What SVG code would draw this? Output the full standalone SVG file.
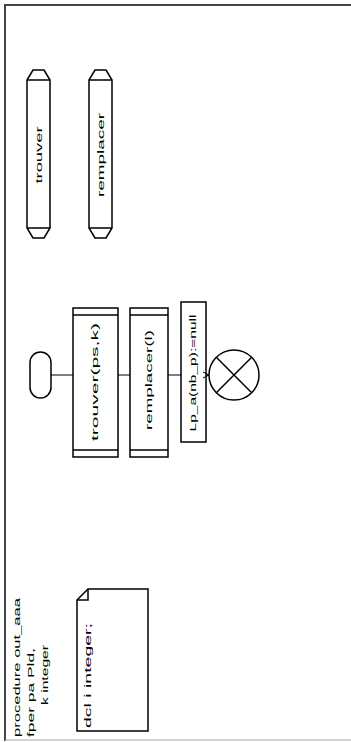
<svg xmlns="http://www.w3.org/2000/svg" width="351" height="742" viewBox="0 0 351 742">
<style>
.s{fill:none;stroke:#000;stroke-width:1.5}
.w{fill:#fff;stroke:#000;stroke-width:1.5}
.c{fill:none;stroke:#000;stroke-width:1}
.t{font-family:"Liberation Sans",Arial,sans-serif;font-size:9.5px;fill:#000}
</style>
<defs>
<marker id="arr" markerWidth="8" markerHeight="8" refX="7" refY="4" orient="auto" markerUnits="userSpaceOnUse">
<path d="M1,1 L7,4 L1,7" fill="none" stroke="#000" stroke-width="1"/>
</marker>
</defs>
<rect x="0" y="0" width="351" height="742" fill="#fff"/>
<g id="frame">
<line x1="5" y1="5" x2="351" y2="5" stroke="#444" stroke-width="2"/>
<line x1="5" y1="4" x2="5" y2="741" stroke="#444" stroke-width="2"/>
<line x1="5" y1="740" x2="351" y2="740" stroke="#aaa" stroke-width="1"/>
</g>
<g id="header">
<text class="t" transform="translate(19.5,737) rotate(-90)" textLength="139" lengthAdjust="spacingAndGlyphs">procedure out_aaa</text>
<text class="t" transform="translate(34,737) rotate(-90)" textLength="89" lengthAdjust="spacingAndGlyphs">fper pa Pld,</text>
<text class="t" transform="translate(48,705) rotate(-90)" textLength="60" lengthAdjust="spacingAndGlyphs">k integer</text>
</g>
<g id="note">
<path class="w" d="M88,589 H148 V731 H77 V600 Z"/>
<path class="s" d="M77,600 H88 V589"/>
<text class="t" transform="translate(91,728) rotate(-90)" textLength="105" lengthAdjust="spacingAndGlyphs">dcl i integer;</text>
</g>
<g id="proc-trouver">
<path class="w" d="M27,80 L33,70 H44 L50,80 V228 L44,238 H33 L27,228 Z"/>
<path class="s" d="M27,80 H50 M27,228 H50"/>
<text class="t" text-anchor="middle" transform="translate(41.5,155) rotate(-90)" textLength="57" lengthAdjust="spacingAndGlyphs">trouver</text>
</g>
<g id="proc-remplacer">
<path class="w" d="M89,80 L95,70 H106 L112,80 V228 L106,238 H95 L89,228 Z"/>
<path class="s" d="M89,80 H112 M89,228 H112"/>
<text class="t" text-anchor="middle" transform="translate(103.5,155) rotate(-90)" textLength="84" lengthAdjust="spacingAndGlyphs">remplacer</text>
</g>
<g id="start">
<rect class="w" x="30" y="352" width="21" height="46" rx="10.5" ry="10.5"/>
</g>
<g id="call-trouver">
<rect class="w" x="73" y="308" width="45" height="149"/>
<path class="s" d="M73,315 H118 M73,450 H118"/>
<text class="t" text-anchor="middle" transform="translate(98,382) rotate(-90)" textLength="118" lengthAdjust="spacingAndGlyphs">trouver(ps,k)</text>
</g>
<g id="call-remplacer">
<rect class="w" x="130" y="308" width="38" height="149"/>
<path class="s" d="M130,315 H168 M130,450 H168"/>
<text class="t" text-anchor="middle" transform="translate(152,380) rotate(-90)" textLength="100" lengthAdjust="spacingAndGlyphs">remplacer(l)</text>
</g>
<g id="assign">
<rect class="w" x="181" y="302" width="25" height="140"/>
<text class="t" text-anchor="middle" transform="translate(196,373) rotate(-90)" textLength="117" lengthAdjust="spacingAndGlyphs">Lp_a(nb_p):=null</text>
</g>
<g id="end">
<circle class="w" cx="234" cy="375" r="25"/>
<path class="s" d="M216.3,357.3 L251.7,392.7 M251.7,357.3 L216.3,392.7"/>
</g>
<g id="connectors">
<line class="c" x1="51" y1="375" x2="73" y2="375"/>
<line class="c" x1="118" y1="375" x2="130" y2="375"/>
<line class="c" x1="168" y1="375" x2="181" y2="375"/>
<line class="c" x1="206" y1="375" x2="209" y2="375" marker-end="url(#arr)"/>
</g>
</svg>
